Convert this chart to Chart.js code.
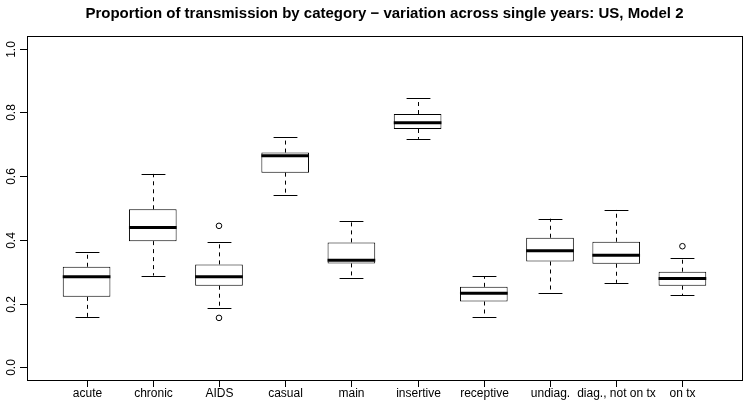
<!DOCTYPE html>
<html><head><meta charset="utf-8">
<script src="https://cdn.jsdelivr.net/npm/chart.js@4/dist/chart.umd.min.js"></script>
<style>html,body{margin:0;padding:0;background:#fff}#wrap{width:747px;height:409px;position:relative}</style>
</head><body><div id="wrap"><canvas id="c" width="747" height="409"></canvas></div>
<script>
const categories = ["acute","chronic","AIDS","casual","main","insertive","receptive","undiag.","diag., not on tx","on tx"];
const whiskerLow  = [0.158, 0.288, 0.1845, 0.541, 0.279, 0.717, 0.158, 0.2317, 0.265, 0.226];
const q1          = [0.221, 0.396, 0.256, 0.611, 0.326, 0.748, 0.2065, 0.332, 0.325, 0.256];
const median      = [0.284, 0.439, 0.284, 0.664, 0.336, 0.768, 0.2327, 0.3657, 0.352, 0.279];
const q3          = [0.3155, 0.496, 0.323, 0.674, 0.392, 0.795, 0.2525, 0.4066, 0.394, 0.300];
const whiskerHigh = [0.3626, 0.607, 0.394, 0.724, 0.460, 0.844, 0.285, 0.4664, 0.4947, 0.343];
const outliers    = [[], [], [0.444, 0.155], [], [], [], [], [], [], [0.380]];
const yTicks = [0, 0.2, 0.4, 0.6, 0.8, 1.0];
const yTickLabels = ["0.0", "0.2", "0.4", "0.6", "0.8", "1.0"];
const titleText = "Proportion of transmission by category \u2212 variation across single years: US, Model 2";

const FONT = '"Liberation Sans", Arial, Helvetica, sans-serif';

const boxData = categories.map((c, i) => ({ x: i + 1, y: [q1[i], q3[i]] }));
const outlierData = [];
outliers.forEach((arr, i) => arr.forEach(v => outlierData.push({ x: i + 1, y: v })));

const boxPlugin = {
  id: 'boxExtras',
  beforeDatasetsDraw(chart) {
    const ctx = chart.ctx, xs = chart.scales.x, ys = chart.scales.y;
    const meta = chart.getDatasetMeta(0);
    ctx.save();
    ctx.strokeStyle = '#000';
    ctx.lineWidth = 1;
    categories.forEach((c, i) => {
      const x = Math.round(xs.getPixelForValue(i + 1)) + 0.5;
      const w = meta.data[i].width;
      const yLo = ys.getPixelForValue(whiskerLow[i]);
      const yQ1 = ys.getPixelForValue(q1[i]);
      const yQ3 = ys.getPixelForValue(q3[i]);
      const yHi = ys.getPixelForValue(whiskerHigh[i]);
      ctx.setLineDash([4, 4]);
      ctx.beginPath();
      ctx.moveTo(x, yQ1); ctx.lineTo(x, yLo);
      ctx.moveTo(x, yQ3); ctx.lineTo(x, yHi);
      ctx.stroke();
      ctx.setLineDash([]);
      ctx.beginPath();
      ctx.moveTo(x - w / 4, Math.round(yLo) + 0.5); ctx.lineTo(x + w / 4, Math.round(yLo) + 0.5);
      ctx.moveTo(x - w / 4, Math.round(yHi) + 0.5); ctx.lineTo(x + w / 4, Math.round(yHi) + 0.5);
      ctx.stroke();
    });
    ctx.restore();
  },
  afterDatasetsDraw(chart) {
    const ctx = chart.ctx, xs = chart.scales.x, ys = chart.scales.y, a = chart.chartArea;
    const meta = chart.getDatasetMeta(0);
    ctx.save();
    ctx.strokeStyle = '#000';
    ctx.lineWidth = 3;
    categories.forEach((c, i) => {
      const x = xs.getPixelForValue(i + 1);
      const w = meta.data[i].width;
      const y = ys.getPixelForValue(median[i]);
      ctx.beginPath();
      ctx.moveTo(x - w / 2, y); ctx.lineTo(x + w / 2, y);
      ctx.stroke();
    });
    ctx.lineWidth = 1;
    ctx.strokeRect(Math.round(a.left) + 0.5, Math.round(a.top) + 0.5, Math.round(a.right - a.left), Math.round(a.bottom - a.top));
    ctx.fillStyle = '#000';
    ctx.font = '12px ' + FONT;
    yTicks.forEach((v, k) => {
      const y = Math.round(ys.getPixelForValue(v)) + 0.5;
      ctx.beginPath();
      ctx.moveTo(Math.round(a.left) - 7, y); ctx.lineTo(Math.round(a.left), y);
      ctx.stroke();
      ctx.save();
      ctx.translate(Math.round(a.left) - 15, y);
      ctx.rotate(-Math.PI / 2);
      ctx.textAlign = 'center';
      ctx.textBaseline = 'middle';
      ctx.fillText(yTickLabels[k], 0, 0);
      ctx.restore();
    });
    ctx.textAlign = 'center';
    ctx.textBaseline = 'middle';
    categories.forEach((c, i) => {
      const x = Math.round(xs.getPixelForValue(i + 1)) + 0.5;
      ctx.beginPath();
      ctx.moveTo(x, Math.round(a.bottom)); ctx.lineTo(x, Math.round(a.bottom) + 7);
      ctx.stroke();
      ctx.fillText(c, x, Math.round(a.bottom) + 14);
    });
    ctx.font = 'bold 15px ' + FONT;
    ctx.fillText(titleText, (a.left + a.right) / 2, 14);
    ctx.restore();
  }
};

new Chart(document.getElementById('c'), {
  type: 'bar',
  data: {
    datasets: [
      {
        type: 'bar',
        data: boxData,
        backgroundColor: '#ffffff',
        borderColor: '#000000',
        borderWidth: 1,
        borderSkipped: false,
        barPercentage: 0.8,
        categoryPercentage: 1.0
      },
      {
        type: 'scatter',
        data: outlierData,
        pointStyle: 'circle',
        pointRadius: 2.8,
        backgroundColor: 'rgba(0,0,0,0)',
        borderColor: '#000000',
        borderWidth: 1
      }
    ]
  },
  options: {
    responsive: false,
    animation: false,
    events: [],
    layout: { padding: { left: 27, right: 5, top: 36, bottom: 29 } },
    scales: {
      x: { type: 'linear', min: 0.1, max: 10.9, offset: false, display: false },
      y: { type: 'linear', min: -0.04, max: 1.04, display: false }
    },
    plugins: { legend: { display: false }, tooltip: { enabled: false }, title: { display: false } }
  },
  plugins: [boxPlugin]
});
</script>
</body></html>
